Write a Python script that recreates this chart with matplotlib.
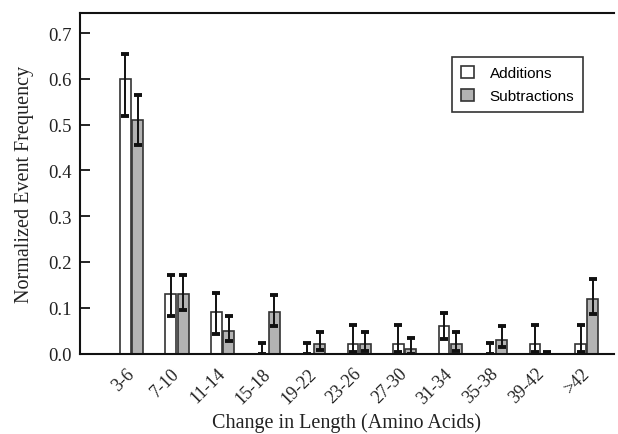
import matplotlib
matplotlib.use("Agg")
import matplotlib.pyplot as plt
import matplotlib.transforms as mtransforms
import numpy as np

categories = ['3-6', '7-10', '11-14', '15-18', '19-22', '23-26', '27-30',
              '31-34', '35-38', '39-42', '>42']
additions = [0.60, 0.13, 0.09, 0.0, 0.0, 0.02, 0.02, 0.06, 0.0, 0.02, 0.02]
add_err_lo = [0.08, 0.048, 0.048, 0.0, 0.0, 0.016, 0.016, 0.029, 0.0, 0.016, 0.016]
add_err_hi = [0.055, 0.041, 0.042, 0.022, 0.022, 0.042, 0.042, 0.029, 0.022, 0.042, 0.042]
subtractions = [0.51, 0.13, 0.05, 0.09, 0.02, 0.02, 0.01, 0.02, 0.03, 0.0, 0.12]
sub_err_lo = [0.055, 0.036, 0.022, 0.029, 0.012, 0.014, 0.01, 0.014, 0.015, 0.0, 0.033]
sub_err_hi = [0.054, 0.041, 0.033, 0.038, 0.026, 0.027, 0.024, 0.026, 0.029, 0.003, 0.042]
yticks = [0.0, 0.1, 0.2, 0.3, 0.4, 0.5, 0.6, 0.7]

serif = ['Liberation Serif', 'DejaVu Serif']
sans = ['Liberation Sans', 'DejaVu Sans']

fig = plt.figure(figsize=(6.18, 4.35), dpi=100)
ax = fig.add_axes([80/618, (435-354.5)/435, 534/618, 340.5/435])

x = np.arange(len(categories))
w = 0.24
off = 0.135
edge = '#333333'
ax.bar(x - off, additions, w, color='white', edgecolor=edge, linewidth=1.2,
       label='Additions', zorder=2)
ax.bar(x + off, subtractions, w, color='#b3b3b3', edgecolor=edge, linewidth=1.2,
       label='Subtractions', zorder=2)
ax.errorbar(x - off, additions, yerr=[add_err_lo, add_err_hi], fmt='none',
            ecolor='#111111', elinewidth=1.4, capsize=3.2, capthick=2.8, zorder=3)
ax.errorbar(x + off, subtractions, yerr=[sub_err_lo, sub_err_hi], fmt='none',
            ecolor='#111111', elinewidth=1.4, capsize=3.2, capthick=2.8, zorder=3)

ax.set_xlim(-1.132, 10.6)
ax.set_ylim(0, 0.744)
ax.set_yticks(yticks)
ax.set_yticklabels(['%.1f' % v for v in yticks], family=serif, fontsize=13.5,
                   color='#222222')
ax.tick_params(axis='y', direction='in', length=7, width=1.2, pad=6)
ax.set_xticks(x)
ax.set_xticklabels(categories, family=serif, fontsize=13, rotation=45,
                   ha='right', color='#222222')
ax.tick_params(axis='x', length=0, pad=8)
shift = mtransforms.ScaledTranslation(6/100, 0, fig.dpi_scale_trans)
for lab in ax.get_xticklabels():
    lab.set_transform(lab.get_transform() + shift)

for s in ['left', 'bottom', 'top']:
    ax.spines[s].set_linewidth(1.5)
    ax.spines[s].set_color('#111111')
ax.spines['right'].set_visible(False)

ax.set_ylabel('Normalized Event Frequency', family=serif, fontsize=14.5,
              color='#222222', labelpad=10)
ax.set_xlabel('Change in Length (Amino Acids)', family=serif, fontsize=14.5,
              color='#222222', labelpad=4)

leg = ax.legend(loc='upper left', bbox_to_anchor=(0.697, 0.871),
                borderaxespad=0, prop={'family': sans, 'size': 11},
                fancybox=False, framealpha=1, edgecolor='#333333',
                handlelength=0.85, handleheight=0.85, handletextpad=1.0,
                labelspacing=0.55, borderpad=0.6)
leg.get_frame().set_linewidth(1.2)

fig.savefig('out.png', dpi=100)
